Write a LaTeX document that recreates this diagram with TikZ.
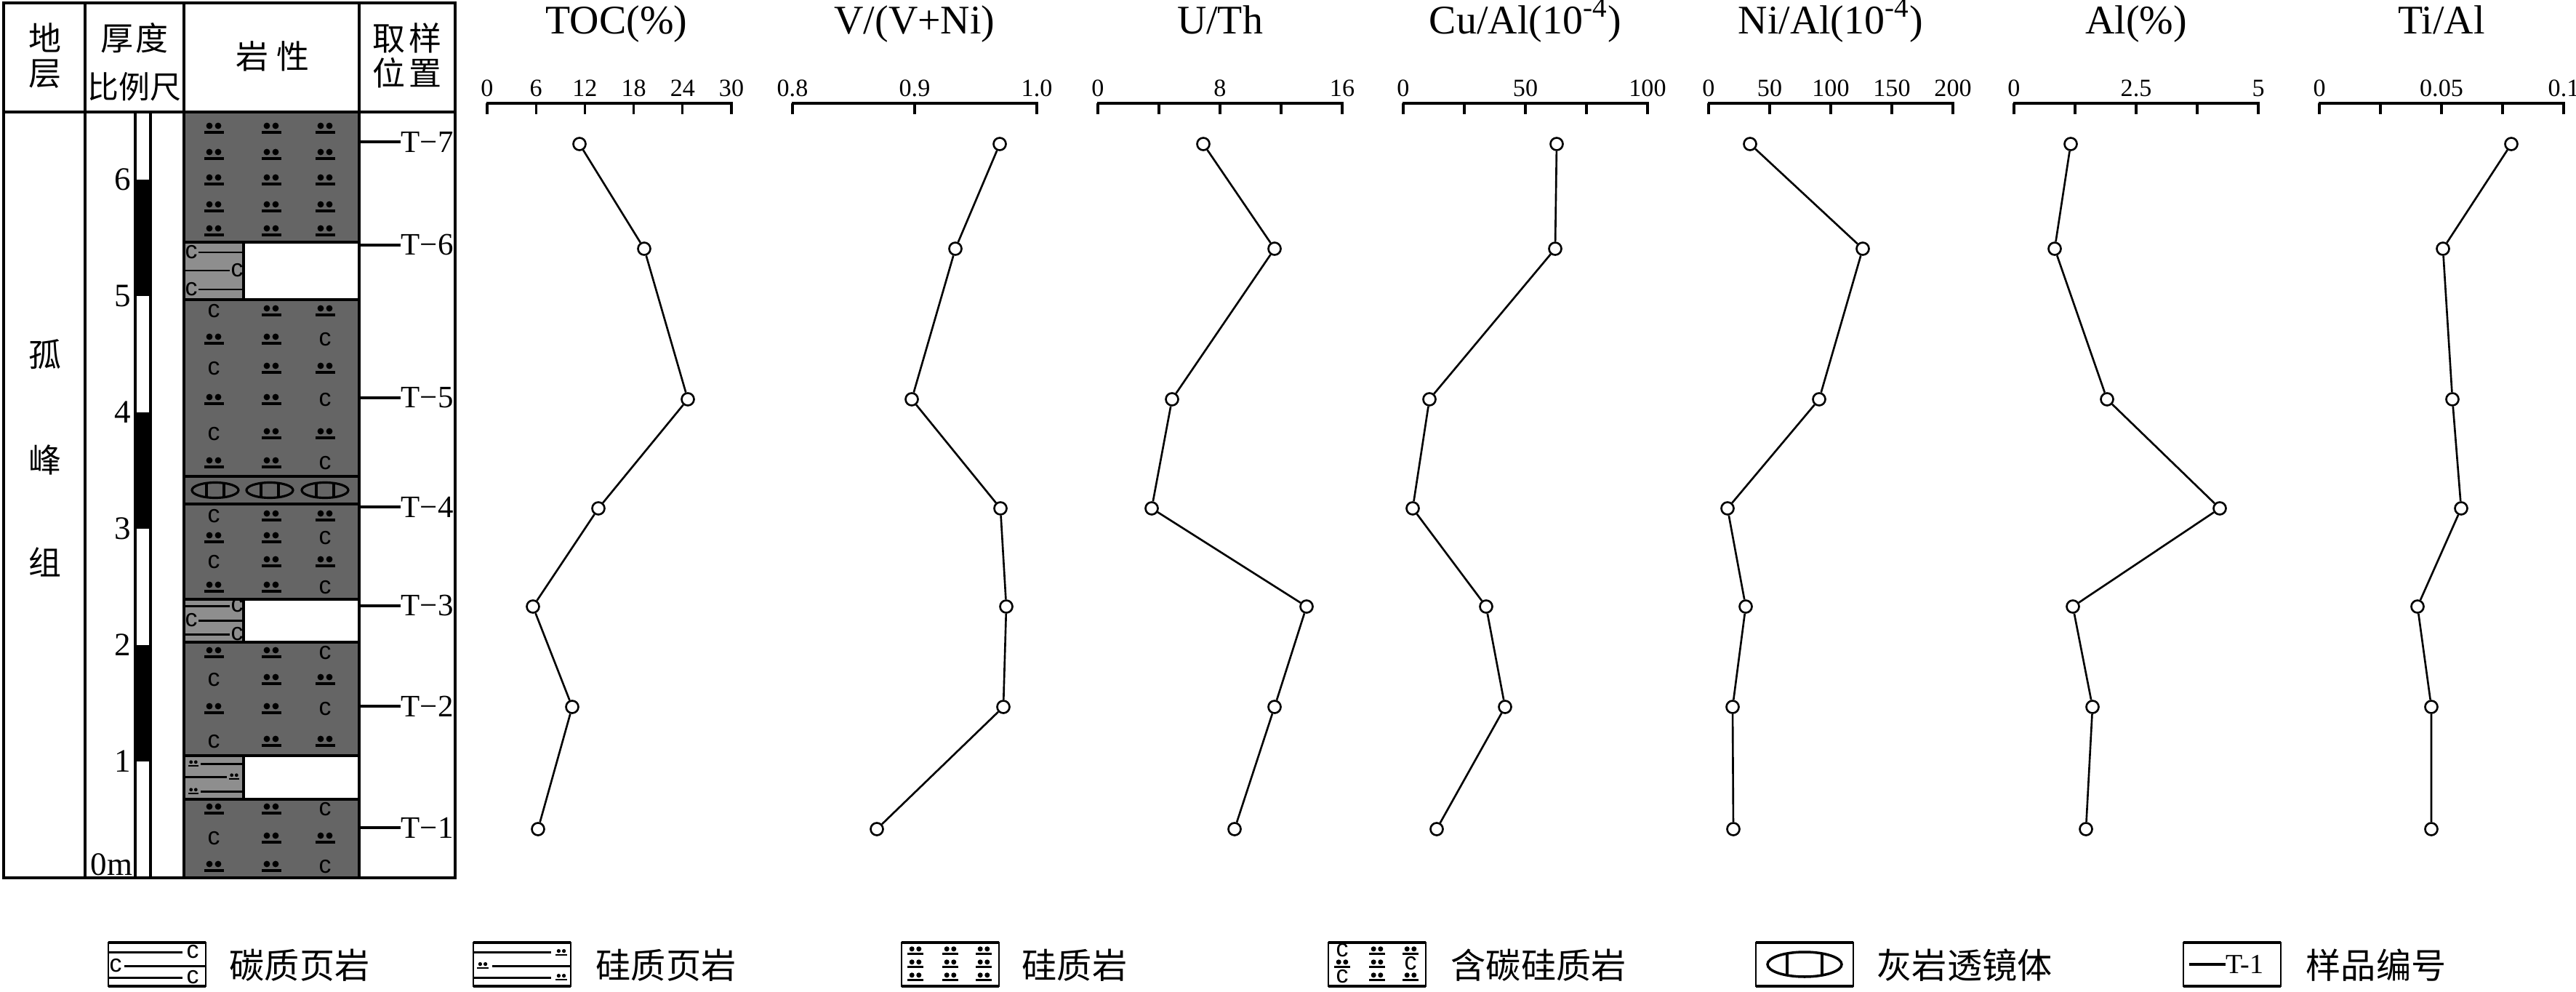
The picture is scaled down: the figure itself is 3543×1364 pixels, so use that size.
\documentclass[tikz,border=0pt]{standalone}
\usepackage{fontspec}
\setmainfont{Liberation Serif}
\newfontfamily\cjk{Noto Sans CJK SC}
\newfontfamily\sansc{Liberation Sans}
\definecolor{dgray}{HTML}{656565}
\definecolor{lgray}{HTML}{8E8E8E}
\newcount\glc
\newcommand\cg[2]{\global\advance\glc by 1\relax\node[cgl] (cg\the\glc) at (#1,#2) {c};}
\newcommand\rcdd[1]{\cg{294}{#1}\pic at (373,#1) {dsym};\pic at (447,#1) {dsym};}
\newcommand\rddc[1]{\pic at (294,#1) {dsym};\pic at (373,#1) {dsym};\cg{447}{#1}}
\newcommand\rddd[1]{\pic at (294,#1) {dsym};\pic at (373,#1) {dsym};\pic at (447,#1) {dsym};}
\newcommand\cleft[1]{\cg{263}{#1}\draw[pl] (273,#1) -- (335,#1);}
\newcommand\cright[1]{\draw[pl] (253,#1) -- (316,#1);\cg{326}{#1}}
\newcommand\dleft[1]{\pic[scale=0.55] at (266,#1) {dsym};\draw[pl] (276,#1) -- (335,#1);}
\newcommand\dright[1]{\draw[pl] (253,#1) -- (312,#1);\pic[scale=0.55] at (322,#1) {dsym};}
\newcommand\chaxis[2]{%
  \draw[axl] (#1-1.5,142) -- (#1+337.5,142);
  \foreach \k in {0,...,#2} \draw[tkl] ({#1+\k*336/#2},142) -- ({#1+\k*336/#2},157);}
\newcommand\series[2]{%
  \foreach \xx/\yy [count=\i] in {#2} \node[pt] (#1\i) at (\xx,\yy) {};
  \draw[dline] (#11)--(#12)--(#13)--(#14)--(#15)--(#16)--(#17);}
\newcommand\legframe{\draw[line width=0.7pt] (0,0) rectangle (134,60);
  \draw[line width=1.3pt] (0,0) -- (134,0) (0,60) -- (134,60);}
\begin{document}
\begin{tikzpicture}[x=0.1mm,y=-0.1mm,
  tbl/.style={line width=1.3pt},
  axl/.style={line width=1.15pt},
  tkl/.style={line width=0.9pt},
  dline/.style={line width=0.75pt},
  pl/.style={line width=0.85pt},
  pt/.style={circle, draw, fill=white, line width=0.75pt, minimum size=1.7mm, inner sep=0pt},
  ttl/.style={font=\fontsize{15.9}{16}\selectfont, anchor=base, inner sep=0pt},
  tlab/.style={font=\fontsize{9.7}{10}\selectfont, anchor=base, inner sep=0pt},
  hdr/.style={font=\cjk\fontsize{12.8}{13}\selectfont, inner sep=0pt},
  scl/.style={font=\fontsize{12.8}{13}\selectfont, inner sep=0pt, anchor=east},
  tlb/.style={font=\fontsize{12.2}{13}\selectfont, inner sep=0pt, anchor=west},
  leg/.style={font=\cjk\fontsize{13.7}{14}\selectfont, inner sep=0pt, anchor=west},
  cgl/.style={font=\sansc\fontsize{9.6}{10}\selectfont, inner sep=0pt},
  dsym/.pic={\fill (-6,-4) circle[radius=0.44mm]; \fill (6,-4) circle[radius=0.44mm];
             \fill (-13.5,3) rectangle (13.5,6.5);},
  lens/.pic={\draw[line width=0.9pt] (0,0) ellipse[x radius=3.2mm, y radius=1.05mm];
             \draw[line width=0.9pt] (-12,-9.7) -- (-12,9.7) (12,-9.7) -- (12,9.7);}
]
\useasboundingbox (0,0) rectangle (3543,1364);
\fill[white] (0,0) rectangle (3543,1364);

% ---------- lithology column ----------
\fill[dgray] (253,154) rectangle (494,333);
\fill[lgray] (253,333) rectangle (335,412);
\fill[dgray] (253,412) rectangle (494,824);
\fill[lgray] (253,824) rectangle (335,883);
\fill[dgray] (253,883) rectangle (494,1039);
\fill[lgray] (253,1039) rectangle (335,1099);
\fill[dgray] (253,1099) rectangle (494,1207);

\foreach \r in {177,213,248,285,318} {\rddd{\r}}
\cleft{347} \cright{372} \cleft{398}
\foreach \r in {428,507,597} {\rcdd{\r}}
\foreach \r in {467,550,637} {\rddc{\r}}
\foreach \xx in {296,371,447} \pic at (\xx,674) {lens};
\foreach \r in {710,773} {\rcdd{\r}}
\foreach \r in {740,808} {\rddc{\r}}
\cright{833} \cleft{853} \cright{872}
\foreach \r in {898,975} {\rddc{\r}}
\foreach \r in {935,1020} {\rcdd{\r}}
\dleft{1050} \dright{1068} \dleft{1088}
\foreach \r in {1113,1192} {\rddc{\r}}
\rcdd{1153}

\foreach \yy in {333,412,655,693,824,883,1039,1099} \draw[line width=1.15pt] (253,\yy) -- (494,\yy);
\draw[line width=1.15pt] (335,333) -- (335,412) (335,824) -- (335,883) (335,1039) -- (335,1099);

% ---------- scale bar ----------
\fill (186,247) rectangle (207,407);
\fill (186,567) rectangle (207,727);
\fill (186,887) rectangle (207,1047);
\draw[line width=0.9pt] (186,154) rectangle (207,1207);
\foreach \m/\yy in {6/247,5/407,4/567,3/727,2/887,1/1047} \node[scl] (s\m) at (181,\yy) {\m};
\node[scl, anchor=base east] (s0) at (183,1203) {0m};

% ---------- table frame ----------
\draw[tbl] (5,4) rectangle (626,1207);
\draw[tbl] (117,4) -- (117,1207) (253,4) -- (253,1207) (494,4) -- (494,1207);
\draw[tbl] (5,154) -- (626,154);

\node[hdr] (h1) at (62,52) {地};
\node[hdr] (h2) at (62,102) {层};
\node[hdr] (h3) at (185,52) {厚\hspace{1pt}度};
\node[hdr, font=\cjk\fontsize{12.2}{13}\selectfont] (h4) at (185,119) {比例尺};
\node[hdr] (h5) at (375,77) {岩\hspace{3pt}性};
\node[hdr] (h6) at (560,52) {取\hspace{1.5pt}样};
\node[hdr] (h7) at (560,100) {位\hspace{1.5pt}置};
\node[hdr] (f1) at (62,487) {孤};
\node[hdr] (f2) at (62,632) {峰};
\node[hdr] (f3) at (62,773) {组};

\foreach \n/\yy in {7/195,6/337,5/547,4/697,3/833,2/971,1/1138} {
  \node[tlb] (t\n) at (551,\yy) {T−\n};
  \coordinate (tc\n) at (494,\yy);
  \draw[line width=1pt] (tc\n) -- (t\n);
}

% ---------- charts ----------
\chaxis{670}{5}
\chaxis{1090}{2}
\chaxis{1510}{4}
\chaxis{1930}{4}
\chaxis{2350}{4}
\chaxis{2770}{4}
\chaxis{3190}{4}

\node[ttl] (ttoc) at (848,46) {TOC(\%)};
\node[ttl] (tv) at (1258,46) {V/(V+Ni)};
\node[ttl] (tu) at (1678,46) {U/Th};
\node[ttl] (tcu) at (2098,46) {Cu/Al(10\textsuperscript{-4})};
\node[ttl] (tni) at (2518,46) {Ni/Al(10\textsuperscript{-4})};
\node[ttl] (tal) at (2938,46) {Al(\%)};
\node[ttl] (tti) at (3358,46) {Ti/Al};

\foreach \v [count=\i] in {0,6,12,18,24,30} \node[tlab] (ltoc\i) at ({670+(\i-1)*67.2},132) {\v};
\foreach \v [count=\i] in {0.8,0.9,1.0} \node[tlab] (lv\i) at ({1090+(\i-1)*168},132) {\v};
\foreach \v [count=\i] in {0,8,16} \node[tlab] (lu\i) at ({1510+(\i-1)*168},132) {\v};
\foreach \v [count=\i] in {0,50,100} \node[tlab] (lcu\i) at ({1930+(\i-1)*168},132) {\v};
\foreach \v [count=\i] in {0,50,100,150,200} \node[tlab] (lni\i) at ({2350+(\i-1)*84},132) {\v};
\foreach \v [count=\i] in {0,2.5,5} \node[tlab] (lal\i) at ({2770+(\i-1)*168},132) {\v};
\foreach \v [count=\i] in {0,0.05,0.1} \node[tlab] (lti\i) at ({3190+(\i-1)*168},132) {\v};

\series{toc}{797/198,886/342,946/549,823/699,733/834,787/972,740/1140}
\series{vn}{1375/198,1314/342,1254/549,1376/699,1384/834,1380/972,1206/1140}
\series{uth}{1655/198,1753/342,1612/549,1584/699,1797/834,1753/972,1698/1140}
\series{cu}{2141/198,2139/342,1966/549,1943/699,2044/834,2070/972,1976/1140}
\series{ni}{2407/198,2562/342,2502/549,2376/699,2401/834,2383/972,2384/1140}
\series{al}{2848/198,2826/342,2898/549,3053/699,2851/834,2878/972,2869/1140}
\series{ti}{3454/198,3360/342,3373/549,3385/699,3325/834,3344/972,3344/1140}

% ---------- legend ----------
\begin{scope}[shift={(149,1296)}]
  \draw[pl] (0,13) -- (102,13) (22,32) -- (134,32) (0,48) -- (102,48);
  \cg{116}{13} \cg{10}{32} \cg{116}{48}
  \legframe
\end{scope}
\node[leg] (lg1) at (315,1327) {碳质页岩};
\begin{scope}[shift={(651,1296)}]
  \draw[pl] (0,13) -- (107,13) (26,32) -- (134,32) (0,48) -- (107,48);
  \pic[scale=0.6] at (121,14) {dsym}; \pic[scale=0.6] at (13,32) {dsym}; \pic[scale=0.6] at (121,48) {dsym};
  \legframe
\end{scope}
\node[leg] (lg2) at (819,1327) {硅质页岩};
\begin{scope}[shift={(1240,1296)}]
  \foreach \xx in {19,67,113} \foreach \yy in {12,30,48} \pic[scale=0.8] at (\xx,\yy) {dsym};
  \legframe
\end{scope}
\node[leg] (lg3) at (1405,1327) {硅质岩};
\begin{scope}[shift={(1827,1296)}]
  \cg{19}{11} \pic[scale=0.8] at (67,12) {dsym}; \pic[scale=0.8] at (113,12) {dsym};
  \pic[scale=0.8] at (19,30) {dsym}; \pic[scale=0.8] at (67,30) {dsym}; \cg{113}{29}
  \cg{19}{47} \pic[scale=0.8] at (67,48) {dsym}; \pic[scale=0.8] at (113,48) {dsym};
  \legframe
\end{scope}
\node[leg] (lg4) at (1995,1327) {含碳硅质岩};
\begin{scope}[shift={(2415,1296)}]
  \draw[line width=1pt] (67,30) ellipse[x radius=5.1mm, y radius=1.7mm];
  \draw[line width=1pt] (43,15) -- (43,45) (91,15) -- (91,45);
  \legframe
\end{scope}
\node[leg] (lg5) at (2581,1327) {灰岩透镜体};
\begin{scope}[shift={(3003,1296)}]
  \node[font=\fontsize{10.8}{11}\selectfont, inner sep=0pt, anchor=west] (lt1) at (58,30) {T-1};
  \coordinate (lc1) at (8,30);
  \draw[line width=1.1pt] (lc1) -- (lt1);
  \legframe
\end{scope}
\node[leg] (lg6) at (3171,1327) {样品编号};
\end{tikzpicture}
\end{document}
